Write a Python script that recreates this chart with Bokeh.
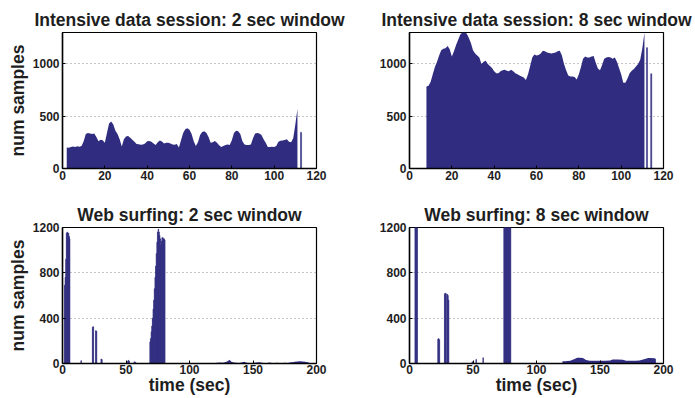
from bokeh.plotting import figure
from bokeh.layouts import column, row
from bokeh.models import FixedTicker, Range1d
from bokeh.embed import file_html
from bokeh.resources import INLINE

# ---------------- data ----------------
# Intensive data session, 2 sec window (1 s steps)
tl_t = list(range(2, 112))
tl_v = [200, 198, 205, 210, 205, 212, 208, 215, 260, 330,
        340, 335, 330, 335, 300, 260, 275, 270, 245, 340,
        430, 450, 420, 360, 330, 280, 210, 280, 305, 310,
        295, 275, 255, 235, 232, 228, 230, 240, 260, 262,
        255, 240, 225, 250, 268, 258, 240, 245, 245, 240,
        230, 228, 235, 200, 270, 340, 375, 385, 370, 330,
        260, 215, 250, 320, 350, 355, 340, 300, 245, 250,
        262, 245, 222, 205, 215, 225, 230, 225, 270, 340,
        360, 355, 330, 260, 230, 225, 225, 230, 290, 335,
        340, 335, 320, 280, 245, 205, 205, 208, 205, 215,
        255, 265, 268, 272, 280, 255, 250, 290, 420, 570]
tl_spike_t = [112.7]
tl_spike_v = [345]

# Intensive data session, 8 sec window
tr_t = list(range(8, 112))
tr_v = [785, 790, 830, 900, 970, 1020, 1080, 1130, 1145, 1150,
        1170, 1140, 1070, 1120, 1180, 1230, 1280, 1300, 1300, 1290,
        1250, 1200, 1130, 1100, 1080, 1060, 1000, 1020, 1030, 1000,
        980, 960, 930, 910, 910, 930, 940, 945, 935, 930,
        945, 930, 910, 900, 890, 880, 870, 845, 900, 980,
        1060, 1090, 1080, 1085, 1100, 1125, 1120, 1110, 1105, 1100,
        1105, 1110, 1120, 1125, 1080, 1000, 940, 890, 880, 880,
        875, 850, 900, 970, 1050, 1070, 1060, 1060, 1070, 1075,
        1010, 955, 940, 990, 1050, 1060, 1065, 1060, 1050, 1060,
        1020, 960, 900, 820, 820, 860, 910, 935, 950, 975,
        1000, 1040, 1150, 1300]
tr_spike_t = [112.2, 114.2]
tr_spike_v = [1155, 905]

# Web surfing, 2 sec window
bl_t = [1.75, 2.25, 2.75, 3.25, 3.75, 4.25, 4.75, 5.25, 5.6,
        14.7,
        23.75, 24.25, 26.25, 26.75,
        30.5, 31.0,
        51.5, 52.0, 52.5, 56.5, 57.5,
        69.0, 69.5, 70.0, 70.5, 71.0, 71.5, 72.0, 72.5, 73.0, 73.5,
        74.0, 74.5, 75.0, 75.5, 76.0, 76.5, 77.0, 77.5, 78.0, 78.5,
        79.0, 79.5, 80.0, 80.5]
bl_v = [690, 760, 920, 1150, 1160, 1150, 1150, 1120, 1100,
        25,
        320, 325, 290, 285,
        40, 35,
        20, 28, 20, 15, 12,
        190, 220, 280, 330, 400, 480, 560, 660, 760, 860,
        970, 1070, 1160, 1185, 1160, 1130, 1100, 1040, 1080, 1110,
        1110, 1100, 1100, 1090]
bl_tail_t = [120, 122, 124, 126, 128, 130, 131.5, 133, 135, 137, 139, 141, 143,
             145, 147, 149, 151, 153, 155, 157, 159, 161, 163, 165, 167, 169,
             171, 173, 175, 177, 179, 181, 183, 185, 187, 189, 191, 193, 194]
bl_tail_v = [5, 6, 8, 6, 10, 20, 33, 15, 8, 6, 5, 8, 15,
             6, 5, 5, 6, 8, 12, 6, 5, 5, 8, 5, 5, 6,
             5, 5, 6, 5, 8, 10, 15, 18, 20, 18, 15, 12, 8]

# Web surfing, 8 sec window
br_t = [4.5, 5.0, 5.5, 6.0,
        22.5, 23.0, 23.5,
        27.75, 28.25, 28.75, 29.75, 30.25, 30.75,
        49.5, 52.5, 58.0,
        74.5, 75.0, 75.5, 76.0, 76.5, 77.0, 77.5, 78.0, 78.5, 79.0, 79.5]
br_v = [1300, 1300, 1300, 1300,
        215, 220, 210,
        615, 620, 615, 610, 600, 560,
        15, 35, 50,
        1300, 1300, 1300, 1300, 1300, 1300, 1300, 1300, 1300, 1300, 1300]
br_tail_t = [120.4, 122.5, 126.6, 130.4, 132, 134, 136.6, 139, 142, 146, 150,
             154, 158, 160, 164, 168, 170.6, 174, 178, 181, 184, 188, 190, 193, 194]
br_tail_v = [20, 20, 25, 41, 50, 50, 48, 30, 25, 25, 25,
             25, 26, 35, 35, 33, 25, 25, 25, 26, 35, 48, 48, 46, 40]

top_xticks = [0, 20, 40, 60, 80, 100, 120]
top_yticks = [0, 500, 1000]
bot_xticks = [0, 50, 100, 150, 200]
bot_yticks = [0, 400, 800, 1200]

# ---------------- style ----------------
BAR = "#302D80"
FONT = "Liberation Sans"
TXT = "#1e1e1e"


def make(title, width, height, xr, yr, xticks, yticks, left, right, bottom,
         ylabel=None, xlabel=None):
    p = figure(width=width, height=height, x_range=Range1d(*xr),
               y_range=Range1d(*yr), title=title, output_backend="svg",
               toolbar_location=None, min_border_left=left,
               min_border_right=right, min_border_top=32,
               min_border_bottom=bottom)
    p.title.text_font = FONT
    p.title.text_font_size = "17.5px"
    p.title.text_font_style = "bold"
    p.title.text_color = TXT
    p.title.align = "center"
    p.title.standoff = 6
    p.outline_line_color = "black"
    p.outline_line_width = 1.2
    p.background_fill_color = "white"
    p.border_fill_color = "white"
    p.xgrid.visible = False
    p.ygrid.grid_line_color = "#8a8a8a"
    p.ygrid.grid_line_dash = "1 3"
    p.ygrid.grid_line_width = 1
    p.xaxis.ticker = FixedTicker(ticks=xticks)
    p.yaxis.ticker = FixedTicker(ticks=yticks)
    for ax in (p.xaxis, p.yaxis):
        ax.axis_line_color = "black"
        ax.axis_line_width = 1.5
        ax.major_tick_in = 3
        ax.major_tick_out = 0
        ax.minor_tick_line_color = None
        ax.major_tick_line_color = "black"
        ax.major_label_text_font = FONT
        ax.major_label_text_font_size = "12px"
        ax.major_label_text_font_style = "bold"
        ax.major_label_text_color = TXT
        ax.axis_label_text_font = FONT
        ax.axis_label_text_font_size = "17.5px"
        ax.axis_label_text_font_style = "bold"
        ax.axis_label_text_color = TXT
        ax.axis_label_standoff = 2
    p.xaxis.major_label_standoff = 2
    p.yaxis.major_label_standoff = 3
    if ylabel:
        p.yaxis.axis_label = ylabel
    if xlabel:
        p.xaxis.axis_label = xlabel
        p.xaxis.major_label_standoff = 1
        p.xaxis.axis_label_standoff = -2
    return p


p1 = make("Intensive data session: 2 sec window", 347, 195, (0, 120), (0, 1300),
          top_xticks, top_yticks, 62, 31, 27, ylabel="num samples")
p1.varea(x=tl_t, y1=0, y2=tl_v, fill_color=BAR)
p1.vbar(x=tl_spike_t, top=tl_spike_v, width=0.5, fill_color=BAR, line_color=BAR, line_width=0.5)

p2 = make("Intensive data session: 8 sec window", 348, 195, (0, 120), (0, 1300),
          top_xticks, top_yticks, 62, 32, 27)
p2.varea(x=tr_t, y1=0, y2=tr_v, fill_color=BAR)
p2.vbar(x=tr_spike_t, top=tr_spike_v, width=0.5, fill_color=BAR, line_color=BAR, line_width=0.5)

p3 = make("Web surfing: 2 sec window", 347, 203, (0, 200), (0, 1200),
          bot_xticks, bot_yticks, 62, 31, 35, ylabel="num samples", xlabel="time (sec)")
p3.vbar(x=bl_t, top=bl_v, width=0.5, fill_color=BAR, line_color=BAR, line_width=0.6)
p3.varea(x=bl_tail_t, y1=0, y2=bl_tail_v, fill_color=BAR)

p4 = make("Web surfing: 8 sec window", 348, 203, (0, 200), (0, 1200),
          bot_xticks, bot_yticks, 62, 32, 35, xlabel="time (sec)")
p4.vbar(x=br_t, top=br_v, width=0.5, fill_color=BAR, line_color=BAR, line_width=0.6)
p4.varea(x=br_tail_t, y1=0, y2=br_tail_v, fill_color=BAR)

layout = column(row(p1, p2), row(p3, p4))

open("out.html", "w").write(file_html(layout, INLINE))
